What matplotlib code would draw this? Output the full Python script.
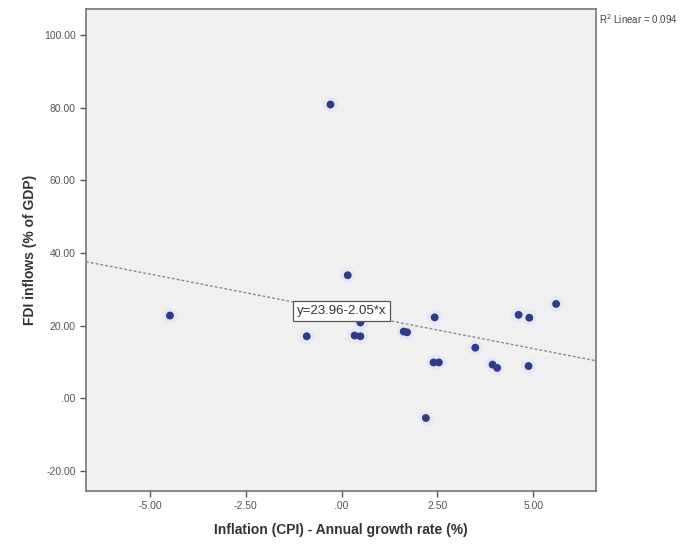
import numpy as np
import matplotlib
matplotlib.use("Agg")
import matplotlib.pyplot as plt

plt.rcParams['font.family'] = ['Liberation Sans', 'DejaVu Sans']

# inflation (CPI growth, %) vs FDI inflows (% of GDP)
inflation = [-4.48, -0.91, -0.29, 0.16, 0.34, 0.49, 0.49, 1.62, 1.71, 2.43,
             2.20, 2.40, 2.54, 3.49, 3.94, 4.06, 4.62, 4.90, 4.88, 5.60]
fdi = [22.8, 17.1, 80.9, 33.9, 17.3, 17.1, 20.9, 18.4, 18.2, 22.3,
       -5.4, 9.9, 9.9, 13.95, 9.3, 8.4, 23.0, 22.2, 8.9, 26.0]

intercept = 23.96
slope = -2.05
r2 = 0.094

xticks = [-5.0, -2.5, 0.0, 2.5, 5.0]
xticklabels = ["-5.00", "-2.50", ".00", "2.50", "5.00"]
yticks = [-20, 0, 20, 40, 60, 80, 100]
yticklabels = ["-20.00", ".00", "20.00", "40.00", "60.00", "80.00", "100.00"]

fig = plt.figure(figsize=(6.91, 5.48), dpi=100)
ax = fig.add_axes([0.1245, 0.104, 0.738, 0.8796])
ax.set_facecolor("#f0f0f0")

xlim = (-6.67, 6.64)
ax.set_xlim(*xlim)
ax.set_ylim(-25.5, 107.2)

# fit line across the full x range
lx = np.array(xlim)
ax.plot(lx, intercept + slope * lx, color="#888888", lw=1.0,
        linestyle=(0, (2, 1.5)), zorder=2)

# soft halo, then the points
ax.scatter(inflation, fdi, s=120, color="#e6e8f4", edgecolors="none", zorder=3)
ax.scatter(inflation, fdi, s=32, color="#2f3b86", edgecolors="none", zorder=4)

# equation label sits on the line at x = 0
ax.text(0.0, intercept, "y=%.2f%.2f*x" % (intercept, slope), fontsize=9.5,
        color="#333333", ha="center", va="center", zorder=5,
        bbox=dict(boxstyle="square,pad=0.3", fc="white", ec="#555555", lw=0.9))

fig.text(0.8665, 0.965, "R$^2$ Linear = %.3f" % r2, fontsize=7, color="#444444",
         ha="left", va="center")

ax.set_xticks(xticks)
ax.set_xticklabels(xticklabels)
ax.set_yticks(yticks)
ax.set_yticklabels(yticklabels)
ax.tick_params(labelsize=7.5, colors="#555555", length=4, width=1)
for s in ax.spines.values():
    s.set_color("#777777")
    s.set_linewidth(1.2)

ax.set_xlabel("Inflation (CPI) - Annual growth rate (%)", fontsize=10,
              fontweight="bold", color="#333333", labelpad=8)
ax.set_ylabel("FDI inflows (% of GDP)", fontsize=10, fontweight="bold",
              color="#333333", labelpad=5)

fig.savefig("out.png", dpi=100)
